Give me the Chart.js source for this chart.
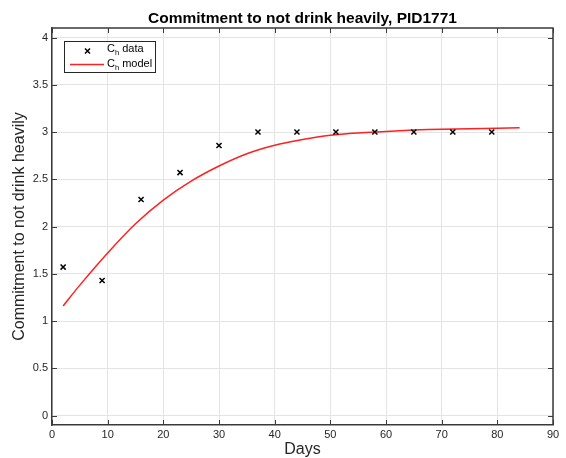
<!DOCTYPE html>
<html>
<head>
<meta charset="utf-8">
<script src="https://cdn.jsdelivr.net/npm/chart.js@4"></script>
<style>
  html, body { margin: 0; padding: 0; background: #fff; }
  #wrap { width: 566px; height: 458px; }
</style>
</head>
<body>
<div id="wrap"><canvas id="myChart" width="566" height="458"></canvas></div>
<script>
// measured commitment (weekly)
var dataDays = [2, 9, 16, 23, 30, 37, 44, 51, 58, 65, 72, 79];
var dataValues = [1.571, 1.429, 2.286, 2.571, 2.857, 3, 3, 3, 3, 3, 3, 3];

// fitted model curve
var modelDays = [2, 5, 10, 15, 20, 25, 30, 35, 40, 45, 50, 55, 60, 65, 70, 75, 80, 84];
var modelValues = [1.16, 1.38, 1.72, 2.03, 2.28, 2.48, 2.64, 2.77, 2.86, 2.92, 2.965, 2.99, 3.005, 3.02, 3.03, 3.035, 3.04, 3.045];

// tick labels
var xTicks = [0, 10, 20, 30, 40, 50, 60, 70, 80, 90];
var yTicks = [0, 0.5, 1, 1.5, 2, 2.5, 3, 3.5, 4];

var axisColor = '#3a3a3a';
var fontFamily = "'Liberation Sans', Arial, Helvetica, sans-serif";

// Draws the top/right box lines, the inward ticks and the legend
var boxPlugin = {
    id: 'matlabBox',
    afterDraw: function (chart) {
        var ctx = chart.ctx;
        var a = chart.chartArea;
        var xs = chart.scales.x, ys = chart.scales.y;
        ctx.save();
        ctx.strokeStyle = axisColor;
        ctx.lineWidth = 1.5;
        ctx.beginPath();
        ctx.moveTo(a.left, a.top);
        ctx.lineTo(a.right, a.top);
        ctx.lineTo(a.right, a.bottom);
        ctx.stroke();

        ctx.lineWidth = 1;
        ctx.beginPath();
        xTicks.forEach(function (t) {
            var px = Math.round(xs.getPixelForValue(t)) + 0.5;
            ctx.moveTo(px, a.bottom); ctx.lineTo(px, a.bottom - 5);
            ctx.moveTo(px, a.top); ctx.lineTo(px, a.top + 5);
        });
        yTicks.forEach(function (t) {
            var py = Math.round(ys.getPixelForValue(t)) + 0.5;
            ctx.moveTo(a.left, py); ctx.lineTo(a.left + 5, py);
            ctx.moveTo(a.right, py); ctx.lineTo(a.right - 5, py);
        });
        ctx.stroke();

        // legend
        var lx = 64.5, ly = 41.5, lw = 91, lh = 31;
        ctx.fillStyle = '#fff';
        ctx.fillRect(lx, ly, lw, lh);
        ctx.strokeStyle = '#262626';
        ctx.lineWidth = 1;
        ctx.strokeRect(lx, ly, lw, lh);

        // data marker
        ctx.strokeStyle = '#000';
        ctx.lineWidth = 1.5;
        ctx.beginPath();
        ctx.moveTo(85, 48.5); ctx.lineTo(90, 53.5);
        ctx.moveTo(90, 48.5); ctx.lineTo(85, 53.5);
        ctx.stroke();

        // model line
        ctx.strokeStyle = '#ff2020';
        ctx.beginPath();
        ctx.moveTo(70, 64.5); ctx.lineTo(104, 64.5);
        ctx.stroke();

        function label(text, y) {
            ctx.fillStyle = '#000';
            ctx.textBaseline = 'alphabetic';
            ctx.font = '11px ' + fontFamily;
            ctx.fillText('C', 107, y);
            var w = ctx.measureText('C').width;
            ctx.font = '7.5px ' + fontFamily;
            ctx.fillText('h', 107 + w, y + 3);
            var w2 = ctx.measureText('h').width;
            ctx.font = '11px ' + fontFamily;
            ctx.fillText(' ' + text, 107 + w + w2, y);
        }
        label('data', 51.5);
        label('model', 66.5);
        ctx.restore();
    }
};

var ctx = document.getElementById('myChart').getContext('2d');
var chart = new Chart(ctx, {
    type: 'line',
    data: {
        datasets: [
            {
                label: 'Ch data',
                data: dataDays.map(function (d, i) { return { x: d, y: dataValues[i] }; }),
                showLine: false,
                pointStyle: 'crossRot',
                pointRadius: 3.6,
                pointBorderColor: '#000',
                pointBorderWidth: 1.5,
                borderColor: '#000'
            },
            {
                label: 'Ch model',
                data: modelDays.map(function (d, i) { return { x: d, y: modelValues[i] }; }),
                borderColor: '#ff2020',
                borderWidth: 1.5,
                pointRadius: 0,
                fill: false,
                tension: 0.35
            }
        ]
    },
    options: {
        responsive: false,
        animation: false,
        events: [],
        layout: { padding: { left: 0, right: 13, top: 0, bottom: 0 } },
        plugins: {
            legend: { display: false },
            tooltip: { enabled: false },
            title: {
                display: true,
                fullSize: false,
                text: 'Commitment to not drink heavily, PID1771',
                color: '#000',
                font: { family: fontFamily, size: 15.5, weight: 'bold', lineHeight: 1.1 },
                padding: { top: 10, bottom: 1 }
            }
        },
        scales: {
            x: {
                type: 'linear',
                min: 0,
                max: 90,
                afterBuildTicks: function (s) { s.ticks = xTicks.map(function (v) { return { value: v }; }); },
                afterFit: function (s) { s.height = 33; },
                ticks: {
                    color: '#262626',
                    padding: 3,
                    maxRotation: 0,
                    font: { family: fontFamily, size: 11 },
                    callback: function (v) { return String(v); }
                },
                grid: { color: '#e4e4e4', lineWidth: 1, drawTicks: false },
                border: { display: true, color: axisColor, width: 1.5 },
                title: {
                    display: true,
                    text: 'Days',
                    color: '#262626',
                    font: { family: fontFamily, size: 16, lineHeight: 1 },
                    padding: { top: 0, bottom: 0 }
                }
            },
            y: {
                type: 'linear',
                min: -0.1,
                max: 4.1,
                afterBuildTicks: function (s) { s.ticks = yTicks.map(function (v) { return { value: v }; }); },
                afterFit: function (s) { s.width = 52; },
                ticks: {
                    color: '#262626',
                    padding: 4,
                    font: { family: fontFamily, size: 11 },
                    callback: function (v) { return String(v); }
                },
                grid: { color: '#e4e4e4', lineWidth: 1, drawTicks: false },
                border: { display: true, color: axisColor, width: 1.5 },
                title: {
                    display: true,
                    text: 'Commitment to not drink heavily',
                    color: '#262626',
                    font: { family: fontFamily, size: 16, lineHeight: 1 },
                    padding: { top: 12, bottom: 0 }
                }
            }
        }
    },
    plugins: [boxPlugin]
});
</script>
</body>
</html>
